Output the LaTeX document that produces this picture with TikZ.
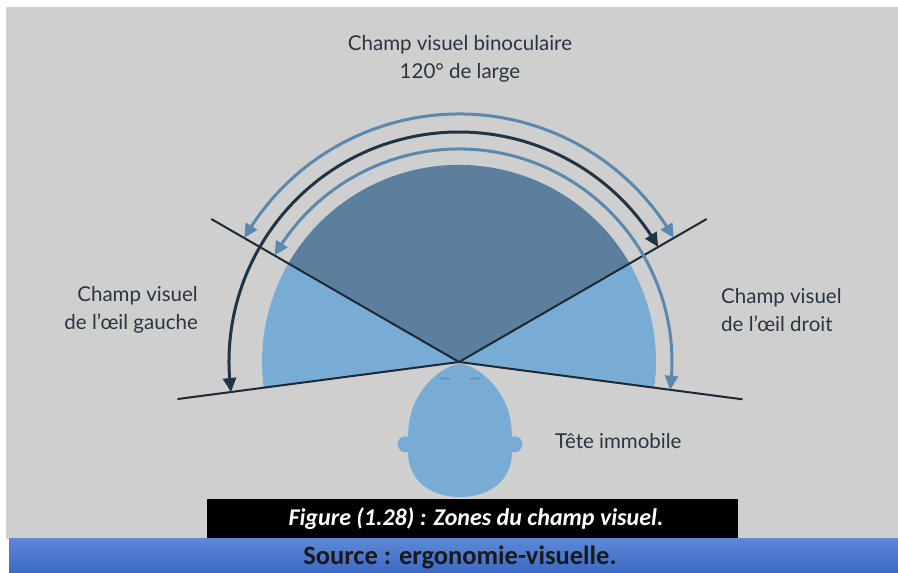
\documentclass[tikz,border=0pt]{standalone}
\usepackage{fontspec}
\setmainfont{Lato}
\newfontfamily\capfont{Carlito}
\usetikzlibrary{arrows.meta,bending,calc}

\definecolor{panelgray}{HTML}{CFCFCF}
\definecolor{fieldlight}{HTML}{79ACD5}
\definecolor{fielddark}{HTML}{5B7F9C}
\definecolor{lineink}{HTML}{1D2935}
\definecolor{arcdark}{HTML}{223344}
\definecolor{arcsteel}{HTML}{5A88AF}
\definecolor{labelink}{HTML}{2B3540}
\definecolor{eyemark}{HTML}{5E8DB6}
\definecolor{bartop}{HTML}{5C88D6}
\definecolor{barbottom}{HTML}{3C69C4}

\tikzset{
  sightline/.style={draw=lineink, line width=2pt},
  rangearc/.style={line width=3pt, {Triangle[length=14pt,width=13pt]}-{Triangle[length=14pt,width=13pt]}},
  label/.style={text=labelink, font=\fontsize{20.5}{27.5}\selectfont, inner sep=0pt},
}

\begin{document}
\begin{tikzpicture}[x=1pt,y=1pt]
\useasboundingbox (0,0) rectangle (898,573);
\fill[white] (0,0) rectangle (898,573);
\fill[panelgray] (6,34) rectangle (898,566);

% eye point
\coordinate (O) at (459,211);

% visual field: whole field, then binocular sector
\fill[fieldlight] (O) -- ++(-7.5:197) arc (-7.5:187.5:197) -- cycle;
\fill[fielddark] (O) -- ++(30:197) arc (30:150:197) -- cycle;

% head seen from above
\fill[fieldlight] (460,209)
  .. controls (475,209) and (500,188) .. (508,163)
  .. controls (511,153) and (512,143) .. (512,136)
  .. controls (518,139) and (524,133) .. (522,126)
  .. controls (520,121) and (515,120) .. (512,121)
  .. controls (512,93) and (490,76) .. (460,76)
  .. controls (430,76) and (408,93) .. (408,121)
  .. controls (405,120) and (400,121) .. (398,126)
  .. controls (396,133) and (402,139) .. (408,136)
  .. controls (408,143) and (409,153) .. (412,163)
  .. controls (420,188) and (445,209) .. (460,209) -- cycle;
\draw[eyemark, line width=1.2pt, line cap=round] (440,194) .. controls (445,195) .. (450,194);
\draw[eyemark, line width=1.2pt, line cap=round] (470,194) .. controls (475,195) .. (480,194);

% limits of the fields
\coordinate (UL) at ($(O)+(150:286)$);
\coordinate (UR) at ($(O)+(30:286)$);
\coordinate (LL) at ($(O)+(187.5:284)$);
\coordinate (LR) at ($(O)+(-7.5:286)$);
\draw[sightline] (UL) -- (O) -- (UR);
\draw[sightline] (LL) -- (O) -- (LR);

% extents of the fields
\draw[rangearc, arcsteel] ($(O)+(150:248)$) arc (150:30:248);
\draw[rangearc, arcdark] ($(O)+(187.5:230)$) arc (187.5:30:230);
\draw[rangearc, arcsteel] ($(O)+(150:213)$) arc (150:-7.5:213);

% labels
\node[label, align=center] (bino) at (460,514) {Champ visuel binoculaire\\120° de large};
\node[label, align=right, anchor=east] (left) at (198,263) {Champ visuel\\de l'œil gauche};
\node[label, align=left, anchor=west] (right) at (721,263) {Champ visuel\\de l'œil droit};
\node[label, anchor=west] (head) at (555,132) {Tête immobile};

% caption and source
\fill[black] (207,35) rectangle (738,74);
\node[text=white, font=\capfont\bfseries\itshape\fontsize{24}{26}\selectfont] (caption) at (476,54.5) {Figure (1.28) : Zones du champ visuel.};
\shade[top color=bartop, bottom color=barbottom] (9,0) rectangle (898,34);
\node[text=black!90, font=\capfont\bfseries\fontsize{26.5}{28}\selectfont] (source) at (460,16) {Source : ergonomie-visuelle.};
\end{tikzpicture}
\end{document}
